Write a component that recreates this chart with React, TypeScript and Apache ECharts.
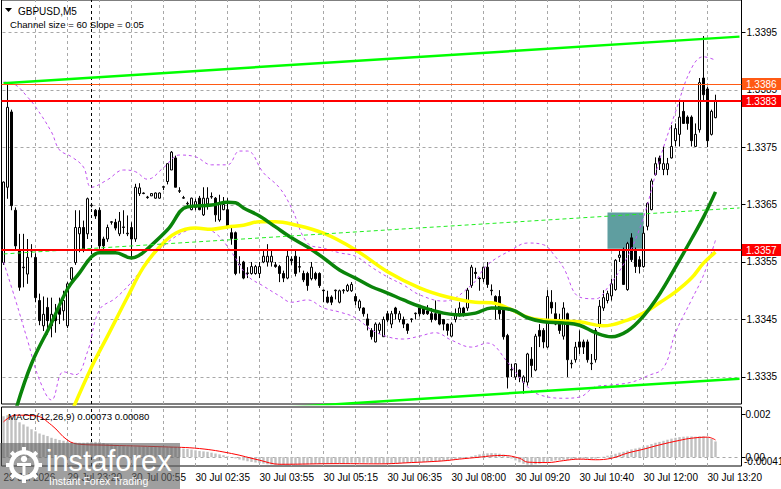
import React, { useEffect, useRef } from "react";
import * as echarts from "echarts";

// ---------- candles (M5 GBPUSD) ----------
const opens = [
  1.33549,1.33680,1.33811,1.33640,1.33570,1.33540,1.33529,1.33569,1.33558,1.33483,
  1.33439,1.33471,1.33439,1.33459,1.33471,1.33465,1.33439,1.33520,1.33549,1.33599,
  1.33610,1.33599,1.33648,1.33640,1.33640,1.33590,1.33590,1.33619,1.33619,1.33599,
  1.33610,1.33599,1.33610,1.33590,1.33669,1.33669,1.33662,1.33665,1.33661,1.33661,
  1.33680,1.33690,1.33710,1.33731,1.33673,1.33661,1.33651,1.33641,1.33645,1.33661,
  1.33632,1.33651,1.33663,1.33661,1.33623,1.33641,1.33641,1.33601,1.33601,1.33545,
  1.33550,1.33530,1.33530,1.33530,1.33530,1.33550,1.33550,1.33550,1.33545,1.33542,
  1.33530,1.33522,1.33555,1.33560,1.33541,1.33530,1.33530,1.33521,1.33530,1.33530,
  1.33501,1.33489,1.33489,1.33500,1.33480,1.33500,1.33500,1.33500,1.33490,1.33470,
  1.33470,1.33451,1.33431,1.33411,1.33431,1.33420,1.33460,1.33442,1.33470,1.33450,
  1.33450,1.33442,1.33450,1.33460,1.33470,1.33470,1.33465,1.33460,1.33460,1.33460,
  1.33450,1.33442,1.33421,1.33450,1.33460,1.33470,1.33470,1.33509,1.33532,1.33522,
  1.33521,1.33541,1.33501,1.33490,1.33490,1.33470,1.33422,1.33362,1.33350,1.33362,
  1.33341,1.33341,1.33381,1.33362,1.33431,1.33431,1.33402,1.33480,1.33460,1.33450,
  1.33421,1.33460,1.33373,1.33380,1.33411,1.33411,1.33411,1.33373,1.33380,1.33442,
  1.33470,1.33483,1.33491,1.33502,1.33558,1.33572,1.33502,1.33592,1.33570,1.33554,
  1.33542,1.33612,1.33641,1.33702,1.33731,1.33711,1.33711,1.33731,1.33761,1.33772,
  1.33812,1.33802,1.33802,1.33751,1.33780,1.33870,1.33851,1.33772,1.33801,
];
const closes = [
  1.33689,1.33819,1.33648,1.33578,1.33506,1.33541,1.33558,1.33570,1.33488,1.33448,
  1.33459,1.33448,1.33459,1.33448,1.33459,1.33483,1.33512,1.33540,1.33610,1.33610,
  1.33570,1.33660,1.33649,1.33630,1.33578,1.33578,1.33610,1.33620,1.33609,1.33621,
  1.33611,1.33600,1.33590,1.33680,1.33679,1.33670,1.33663,1.33669,1.33670,1.33670,
  1.33681,1.33721,1.33741,1.33680,1.33674,1.33662,1.33652,1.33661,1.33655,1.33641,
  1.33661,1.33661,1.33664,1.33632,1.33651,1.33650,1.33612,1.33591,1.33530,1.33546,
  1.33522,1.33531,1.33542,1.33542,1.33542,1.33560,1.33560,1.33560,1.33542,1.33530,
  1.33522,1.33560,1.33552,1.33530,1.33542,1.33519,1.33509,1.33541,1.33521,1.33509,
  1.33500,1.33480,1.33480,1.33501,1.33500,1.33501,1.33509,1.33511,1.33482,1.33482,
  1.33460,1.33440,1.33420,1.33442,1.33442,1.33450,1.33449,1.33460,1.33460,1.33460,
  1.33442,1.33431,1.33451,1.33461,1.33460,1.33460,1.33460,1.33450,1.33450,1.33442,
  1.33442,1.33431,1.33442,1.33460,1.33470,1.33460,1.33501,1.33541,1.33530,1.33521,
  1.33541,1.33511,1.33500,1.33480,1.33460,1.33420,1.33350,1.33363,1.33373,1.33350,
  1.33350,1.33390,1.33370,1.33421,1.33421,1.33411,1.33490,1.33470,1.33442,1.33431,
  1.33470,1.33380,1.33374,1.33402,1.33402,1.33402,1.33380,1.33374,1.33431,1.33473,
  1.33488,1.33495,1.33512,1.33553,1.33562,1.33511,1.33582,1.33554,1.33542,1.33542,
  1.33600,1.33652,1.33691,1.33721,1.33721,1.33721,1.33721,1.33751,1.33782,1.33802,
  1.33791,1.33791,1.33761,1.33772,1.33862,1.33841,1.33761,1.33812,1.33831,
];
const lows = [
  1.33545,1.33660,1.33640,1.33570,1.33500,1.33506,1.33512,1.33558,1.33480,1.33440,
  1.33430,1.33424,1.33419,1.33427,1.33442,1.33448,1.33435,1.33512,1.33545,1.33567,
  1.33567,1.33590,1.33645,1.33625,1.33573,1.33570,1.33585,1.33615,1.33605,1.33595,
  1.33599,1.33595,1.33558,1.33585,1.33665,1.33668,1.33660,1.33665,1.33660,1.33660,
  1.33675,1.33685,1.33710,1.33680,1.33670,1.33660,1.33648,1.33640,1.33640,1.33640,
  1.33630,1.33641,1.33660,1.33620,1.33620,1.33640,1.33609,1.33580,1.33527,1.33530,
  1.33520,1.33522,1.33528,1.33528,1.33522,1.33548,1.33542,1.33542,1.33540,1.33515,
  1.33515,1.33520,1.33545,1.33525,1.33532,1.33515,1.33500,1.33518,1.33518,1.33505,
  1.33480,1.33478,1.33475,1.33485,1.33478,1.33495,1.33498,1.33498,1.33475,1.33465,
  1.33455,1.33431,1.33415,1.33410,1.33425,1.33420,1.33445,1.33435,1.33450,1.33445,
  1.33435,1.33425,1.33445,1.33450,1.33455,1.33458,1.33458,1.33445,1.33448,1.33440,
  1.33431,1.33422,1.33420,1.33445,1.33455,1.33455,1.33465,1.33505,1.33521,1.33500,
  1.33515,1.33505,1.33492,1.33450,1.33450,1.33415,1.33330,1.33350,1.33345,1.33341,
  1.33321,1.33335,1.33350,1.33360,1.33402,1.33400,1.33400,1.33460,1.33440,1.33425,
  1.33415,1.33350,1.33365,1.33375,1.33390,1.33390,1.33375,1.33362,1.33375,1.33435,
  1.33465,1.33478,1.33483,1.33500,1.33550,1.33510,1.33500,1.33550,1.33531,1.33530,
  1.33540,1.33605,1.33640,1.33700,1.33710,1.33701,1.33701,1.33730,1.33751,1.33751,
  1.33790,1.33780,1.33751,1.33750,1.33775,1.33830,1.33750,1.33770,1.33800,
];
const highs = [
  1.33690,1.33859,1.33815,1.33645,1.33599,1.33599,1.33590,1.33581,1.33565,1.33495,
  1.33490,1.33488,1.33488,1.33477,1.33488,1.33500,1.33515,1.33541,1.33640,1.33640,
  1.33622,1.33662,1.33652,1.33642,1.33645,1.33594,1.33615,1.33621,1.33625,1.33637,
  1.33640,1.33631,1.33619,1.33686,1.33687,1.33671,1.33665,1.33670,1.33671,1.33671,
  1.33682,1.33722,1.33743,1.33735,1.33680,1.33665,1.33655,1.33662,1.33660,1.33665,
  1.33680,1.33680,1.33671,1.33663,1.33667,1.33663,1.33661,1.33612,1.33603,1.33560,
  1.33552,1.33541,1.33550,1.33545,1.33550,1.33569,1.33581,1.33571,1.33550,1.33545,
  1.33535,1.33571,1.33560,1.33570,1.33559,1.33535,1.33533,1.33550,1.33533,1.33532,
  1.33502,1.33500,1.33492,1.33502,1.33502,1.33503,1.33512,1.33515,1.33495,1.33485,
  1.33471,1.33460,1.33435,1.33445,1.33445,1.33455,1.33465,1.33465,1.33472,1.33465,
  1.33455,1.33443,1.33452,1.33462,1.33472,1.33471,1.33475,1.33470,1.33483,1.33461,
  1.33451,1.33443,1.33445,1.33469,1.33480,1.33472,1.33505,1.33545,1.33540,1.33523,
  1.33542,1.33550,1.33511,1.33492,1.33501,1.33472,1.33425,1.33373,1.33374,1.33363,
  1.33353,1.33392,1.33402,1.33425,1.33442,1.33435,1.33501,1.33501,1.33480,1.33460,
  1.33480,1.33462,1.33380,1.33411,1.33431,1.33415,1.33415,1.33390,1.33435,1.33484,
  1.33501,1.33500,1.33521,1.33555,1.33570,1.33575,1.33585,1.33600,1.33575,1.33560,
  1.33612,1.33654,1.33695,1.33732,1.33735,1.33751,1.33731,1.33788,1.33791,1.33831,
  1.33831,1.33805,1.33805,1.33791,1.33870,1.33943,1.33855,1.33815,1.33841,
];

// ---------- indicator lines: [bar, price] points ----------
const maGreen = [
  [3,1.33291],[7,1.33373],[12,1.33444],[16,1.33503],[19,1.33531],[22,1.33559],[24,1.33566],
  [28,1.33566],[32,1.33557],[34,1.33562],[36,1.33573],[41,1.33606],[46,1.33646],[52,1.33649],
  [56,1.33654],[58,1.33653],[60,1.33644],[64,1.33630],[68,1.33611],[72,1.33592],[76,1.33576],
  [80,1.33557],[84,1.33536],[88,1.33522],[92,1.33507],[96,1.33496],[100,1.33484],[104,1.33473],
  [110,1.33461],[114,1.33458],[118,1.33461],[122,1.33470],[127,1.33467],[131,1.33453],
  [135,1.33446],[140,1.33444],[144,1.33440],[148,1.33427],[152,1.33420],[156,1.33430],
  [160,1.33456],[164,1.33494],[168,1.33541],[172,1.33590],[175,1.33628],[178,1.33672],
];
const maYellow = [
  [17,1.33289],[22,1.33367],[26,1.33421],[31,1.33489],[35,1.33541],[39,1.33576],[43,1.33600],
  [48,1.33609],[52,1.33607],[56,1.33611],[60,1.33614],[64,1.33620],[68,1.33620],[72,1.33616],
  [80,1.33600],[88,1.33571],[96,1.33533],[104,1.33505],[111,1.33489],[118,1.33480],
  [122,1.33479],[127,1.33467],[131,1.33454],[135,1.33449],[144,1.33446],[150,1.33439],
  [156,1.33449],[160,1.33461],[164,1.33479],[168,1.33498],[172,1.33522],[175,1.33548],[178,1.33567],
];
const bandUpper = [
  [0,1.33863],[3,1.33858],[6,1.33837],[8,1.33820],[12,1.33776],[14,1.33745],[17,1.33733],
  [20,1.33715],[22,1.33680],[26,1.33693],[30,1.33710],[33,1.33707],[36,1.33694],[40,1.33714],
  [44,1.33736],[48,1.33733],[52,1.33719],[56,1.33719],[59,1.33743],[61,1.33743],[65,1.33705],
  [69,1.33679],[72,1.33644],[76,1.33583],[80,1.33574],[84,1.33566],[88,1.33560],[92,1.33541],
  [96,1.33524],[100,1.33510],[104,1.33493],[110,1.33482],[117,1.33510],[121,1.33545],
  [127,1.33571],[131,1.33583],[135,1.33580],[138,1.33559],[140,1.33540],[144,1.33489],
  [148,1.33486],[151,1.33505],[156,1.33559],[160,1.33628],[164,1.33727],[168,1.33811],
  [172,1.33887],[175,1.33907],[178,1.33901],
];
const bandLower = [
  [0,1.33550],[3,1.33484],[6,1.33414],[9,1.33345],[12,1.33310],[15,1.33359],[18,1.33354],
  [21,1.33394],[24,1.33467],[28,1.33487],[32,1.33515],[36,1.33550],[40,1.33578],[45,1.33602],
  [49,1.33609],[53,1.33600],[57,1.33567],[61,1.33526],[65,1.33508],[69,1.33491],[72,1.33480],
  [76,1.33484],[80,1.33470],[84,1.33463],[88,1.33453],[92,1.33432],[96,1.33420],[100,1.33416],
  [104,1.33421],[108,1.33427],[112,1.33414],[117,1.33402],[121,1.33409],[126,1.33376],
  [131,1.33333],[134,1.33319],[140,1.33313],[144,1.33315],[148,1.33333],[152,1.33336],
  [157,1.33341],[161,1.33352],[165,1.33366],[168,1.33427],[172,1.33484],[175,1.33527],[178,1.33588],
];
const channelTop = [[0,1.33861],[184,1.33942]];
const channelMid = [[0,1.33564],[184,1.33644]];
const channelBottom = [[0,1.33266],[184,1.33347]];

// ---------- MACD(12,26,9) ----------
const macdHist = [
  0.00190,0.00195,0.00186,0.00176,0.00162,0.00152,0.00142,0.00130,0.00120,0.00110,
  0.00104,0.00098,0.00090,0.00085,0.00080,0.00076,0.00072,0.00070,0.00068,0.00067,
  0.00067,0.00068,0.00070,0.00071,0.00070,0.00066,0.00062,0.00060,0.00057,0.00054,
  0.00051,0.00049,0.00048,0.00049,0.00050,0.00049,0.00048,0.00048,0.00047,0.00047,
  0.00046,0.00046,0.00047,0.00045,0.00043,0.00040,0.00038,0.00035,0.00032,0.00029,
  0.00027,0.00025,0.00021,0.00017,0.00013,0.00009,0.00004,0.00000,-0.00006,-0.00011,
  -0.00015,-0.00019,-0.00022,-0.00025,-0.00028,-0.00030,-0.00033,-0.00034,-0.00035,-0.00036,
  -0.00037,-0.00036,-0.00035,-0.00035,-0.00034,-0.00034,-0.00033,-0.00032,-0.00031,-0.00031,
  -0.00030,-0.00030,-0.00030,-0.00029,-0.00029,-0.00028,-0.00027,-0.00026,-0.00026,-0.00026,
  -0.00026,-0.00026,-0.00027,-0.00029,-0.00030,-0.00030,-0.00030,-0.00029,-0.00028,-0.00028,
  -0.00027,-0.00027,-0.00026,-0.00025,-0.00024,-0.00023,-0.00022,-0.00021,-0.00020,-0.00019,
  -0.00017,-0.00015,-0.00013,-0.00011,-0.00008,-0.00005,-0.00001,0.00004,0.00009,0.00013,
  0.00016,0.00018,0.00019,0.00018,0.00016,0.00012,0.00004,-0.00006,-0.00015,-0.00024,
  -0.00031,-0.00035,-0.00036,-0.00033,-0.00030,-0.00026,-0.00022,-0.00018,-0.00015,-0.00013,
  -0.00012,-0.00013,-0.00012,-0.00010,-0.00008,-0.00007,-0.00008,-0.00009,-0.00007,-0.00003,
  0.00002,0.00007,0.00011,0.00016,0.00021,0.00025,0.00030,0.00036,0.00040,0.00044,
  0.00049,0.00055,0.00061,0.00067,0.00071,0.00076,0.00081,0.00086,0.00090,0.00093,
  0.00095,0.00096,0.00096,0.00095,0.00097,0.00097,0.00093,0.00085,0.00073,
];
const macdSignal = [
  [0,0.00164],[3,0.00195],[8,0.00192],[12,0.00149],[16,0.00079],[19,0.00060],[25,0.00056],
  [40,0.00048],[49,0.00040],[57,0.00017],[64,-0.00014],[69,-0.00033],[84,-0.00030],
  [94,-0.00031],[102,-0.00025],[110,-0.00017],[114,-0.00009],[119,0.00000],[122,0.00006],
  [125,0.00008],[129,-0.00005],[131,-0.00023],[136,-0.00025],[140,-0.00016],[144,-0.00009],
  [148,-0.00012],[152,-0.00005],[156,0.00019],[160,0.00037],[164,0.00057],[169,0.00078],
  [172,0.00088],[176,0.00093],[178,0.00080],
];

// ---------- axes / ticks / objects ----------
const BAR_SLOTS = 185;
const PRICE_MIN = 1.33303;
const PRICE_MAX = 1.340057;
const MACD_MIN = -0.00041;
const MACD_MAX = 0.00233;
const priceTicks = [1.3335, 1.3345, 1.3355, 1.3365, 1.3375, 1.3385, 1.3395];
const macdTicks = [0.002, 0];
const macdTickLabels = ["0.002", "0.00"];
const macdGridLevels = [0];
const timeTickBars = [0, 16, 32, 48, 64, 80, 96, 112, 128, 144, 160, 176];
const timeTickLabels = [
  "29 Jul 2026", "29 Jul 23:20", "30 Jul 00:55", "30 Jul 02:35", "30 Jul 03:55", "30 Jul 05:15",
  "30 Jul 06:35", "30 Jul 08:00", "30 Jul 09:20", "30 Jul 10:40", "30 Jul 12:00", "30 Jul 13:20",
];
const gridBars = [8,16,24,32,40,48,56,64,72,80,88,96,104,112,120,128,136,144,152,160,168,176];
const separatorBar = 22;
const levelPrices = [1.3386, 1.3383, 1.3357];
const levelColors = ["#FF5A14", "#FF0000", "#FF0000"];
const levelWidths = [1, 2, 2];
const zoneBars = [151, 160];
const zonePrices = [1.33573, 1.33636];

const AXIS_FONT = "'Liberation Sans Narrow','Liberation Sans',Arial,sans-serif";
const TEXT_FONT = "'Liberation Sans',Arial,sans-serif";
const PLOT_X0 = 1.5;
const PLOT_X1 = 741.5;
const GRID_GRAY = "#A8A8A8";

export default function App() {
  const ref = useRef<HTMLDivElement>(null);
  useEffect(() => {
    if (!ref.current) return;
    const chart = echarts.init(ref.current, null, { renderer: "svg" });
    const categories = Array.from({ length: BAR_SLOTS }, (_, i) => String(i));
    const candles = opens.map((o, i) => [o, closes[i], lows[i], highs[i]]);
    const labelByBar: Record<number, string> = {};
    timeTickBars.forEach((b, k) => (labelByBar[b] = timeTickLabels[k]));

    const gridLineStyle = { color: GRID_GRAY, type: [3, 3], width: 1 };
    const vLines = gridBars.map((b) => ({ xAxis: b, lineStyle: gridLineStyle }));
    const sepLine = { xAxis: separatorBar, lineStyle: { color: "#000", type: [3, 3], width: 1 } };
    const markBase = { silent: true, symbol: ["none", "none"], label: { show: false }, animation: false };

    const option: any = {
      animation: false,
      backgroundColor: "#ffffff",
      grid: [
        { left: PLOT_X0, top: 0, width: PLOT_X1 - PLOT_X0, height: 404, show: true, borderColor: "#000", borderWidth: 1 },
        { left: PLOT_X0, top: 407, width: PLOT_X1 - PLOT_X0, height: 59, show: true, borderColor: "#000", borderWidth: 1 },
      ],
      xAxis: [
        { type: "category", gridIndex: 0, data: categories, boundaryGap: true,
          axisLine: { show: false }, axisTick: { show: false }, axisLabel: { show: false }, splitLine: { show: false } },
        { type: "category", gridIndex: 1, data: categories, boundaryGap: true,
          axisLine: { show: false }, axisTick: { show: false }, splitLine: { show: false },
          axisLabel: {
            show: true,
            interval: (i: number) => labelByBar[i] !== undefined,
            formatter: (_v: string, i: number) => labelByBar[i] ?? "",
            align: "left", margin: 6, fontSize: 10, color: "#000", fontFamily: AXIS_FONT,
          } },
      ],
      yAxis: [
        { type: "value", gridIndex: 0, position: "right", min: PRICE_MIN, max: PRICE_MAX,
          axisLine: { show: false },
          axisTick: { show: true, customValues: priceTicks, length: 4, lineStyle: { color: "#000", width: 1 } },
          splitLine: { show: false },
          axisLabel: { customValues: priceTicks, formatter: (v: number) => v.toFixed(4),
            margin: 5, fontSize: 10, color: "#000", fontFamily: AXIS_FONT } },
        { type: "value", gridIndex: 1, position: "right", min: MACD_MIN, max: MACD_MAX,
          axisLine: { show: false },
          axisTick: { show: true, customValues: macdTicks, length: 4, lineStyle: { color: "#000", width: 1 } },
          splitLine: { show: false },
          axisLabel: { customValues: macdTicks,
            formatter: (v: number) => macdTickLabels[macdTicks.indexOf(v)] ?? "",
            margin: 4, fontSize: 10, color: "#000", fontFamily: AXIS_FONT } },
      ],
      series: [
        { type: "line", xAxisIndex: 0, yAxisIndex: 0, data: [], silent: true,
          markArea: { z: 1, silent: true, itemStyle: { color: "#5F9EA0" }, label: { show: false },
            data: [[{ xAxis: zoneBars[0], yAxis: zonePrices[0] }, { xAxis: zoneBars[1], yAxis: zonePrices[1] }]] } },
        { type: "candlestick", xAxisIndex: 0, yAxisIndex: 0, data: candles, barWidth: 2.4, silent: true, z: 2,
          itemStyle: { color: "#ffffff", color0: "#000000", borderColor: "#000000", borderColor0: "#000000",
            borderColorDoji: "#000000", borderWidth: 1 } },
        { type: "line", xAxisIndex: 0, yAxisIndex: 0, data: bandUpper, smooth: 0.4, symbol: "none", silent: true, z: 3,
          lineStyle: { color: "#C050F0", width: 1, type: [3, 3] },
          markLine: { ...markBase, z: 0, data: [...vLines, sepLine] } },
        { type: "line", xAxisIndex: 0, yAxisIndex: 0, data: bandLower, smooth: 0.4, symbol: "none", silent: true, z: 3,
          lineStyle: { color: "#C050F0", width: 1, type: [3, 3] } },
        { type: "line", xAxisIndex: 0, yAxisIndex: 0, data: maYellow, smooth: 0.4, symbol: "none", silent: true, z: 4,
          lineStyle: { color: "#FFFF00", width: 3.5 } },
        { type: "line", xAxisIndex: 0, yAxisIndex: 0, data: maGreen, smooth: 0.4, symbol: "none", silent: true, z: 4,
          lineStyle: { color: "#0A840A", width: 3.5 } },
        { type: "line", xAxisIndex: 0, yAxisIndex: 0, data: channelTop, symbol: "none", silent: true, z: 4,
          lineStyle: { color: "#00FF00", width: 2.5 } },
        { type: "line", xAxisIndex: 0, yAxisIndex: 0, data: channelBottom, symbol: "none", silent: true, z: 4,
          lineStyle: { color: "#00FF00", width: 2.5 } },
        { type: "line", xAxisIndex: 0, yAxisIndex: 0, data: channelMid, symbol: "none", silent: true, z: 4,
          lineStyle: { color: "#22EE22", width: 1, type: [4, 3] } },
        { type: "bar", xAxisIndex: 1, yAxisIndex: 1, data: macdHist, barWidth: 2.4, silent: true, z: 2,
          itemStyle: { color: "#C0C0C0" } },
        { type: "line", xAxisIndex: 1, yAxisIndex: 1, data: macdSignal, smooth: 0.4, symbol: "none", silent: true, z: 4,
          lineStyle: { color: "#FF0000", width: 1 },
          markLine: { ...markBase, z: 0, data: [...vLines, sepLine] } },
      ],
    };
    chart.setOption(option);

    const yPrice = (p: number) => chart.convertToPixel({ yAxisIndex: 0 }, p) as number;
    const yMacd = (v: number) => chart.convertToPixel({ yAxisIndex: 1 }, v) as number;

    // dashed horizontal grid lines built from short 3px dashes
    const dashRow = (y: number) => {
      const out: any[] = [];
      const yy = Math.round(y);
      for (let x = PLOT_X0 + 1; x < PLOT_X1 - 1; x += 6) {
        out.push({ type: "rect", z: 1, silent: true,
          shape: { x, y: yy, width: Math.min(3, PLOT_X1 - 1 - x), height: 1 }, style: { fill: GRID_GRAY } });
      }
      return out;
    };
    const gridRows: any[] = [
      ...priceTicks.flatMap((p) => dashRow(yPrice(p))),
      ...macdGridLevels.flatMap((v) => dashRow(yMacd(v))),
    ];

    const levelLines = levelPrices.map((p, k) => {
      const y = levelWidths[k] === 1 ? Math.round(yPrice(p)) + 0.5 : Math.round(yPrice(p));
      return {
        type: "line", z: 10, silent: true,
        shape: { x1: PLOT_X0, y1: y, x2: PLOT_X1, y2: y },
        style: { stroke: levelColors[k], lineWidth: levelWidths[k] },
      };
    });

    const tags: any[] = [];
    levelPrices.forEach((p, k) => {
      const y = Math.round(yPrice(p));
      tags.push({ type: "rect", z: 100, shape: { x: 742, y: y - 6, width: 39, height: 12 },
        style: { fill: levelColors[k] } });
      tags.push({ type: "text", z: 101, x: 746, y: y + 0.5,
        style: { text: p.toFixed(4), fill: "#fff", fontSize: 10, fontFamily: AXIS_FONT, verticalAlign: "middle" } });
    });

    const logo: any = {
      type: "group", z: 200, children: [
        { type: "rect", z: 200, shape: { x: 0, y: 443, width: 180, height: 46 }, style: { fill: "rgba(100,100,100,0.62)" } },
        { type: "ring", z: 201, shape: { cx: 24, cy: 465, r: 15, r0: 10.5 }, style: { fill: "#fff" } },
        { type: "circle", z: 201, shape: { cx: 24, cy: 459, r: 3.2 }, style: { fill: "#fff" } },
        { type: "rect", z: 201, shape: { x: 17, y: 463, width: 14, height: 3 }, style: { fill: "#fff" } },
        { type: "rect", z: 201, shape: { x: 22.5, y: 463, width: 3, height: 12 }, style: { fill: "#fff" } },
        ...[0, 45, 90, 135, 180, 225, 270, 315].map((deg) => ({
          type: "rect", z: 201, x: 24, y: 465, rotation: (deg * Math.PI) / 180,
          shape: { x: -2, y: -18, width: 4, height: 5 }, style: { fill: "#fff" },
        })),
        { type: "text", z: 201, x: 46, y: 461,
          style: { text: "instaforex", fill: "#fff", fontSize: 29, fontFamily: TEXT_FONT, verticalAlign: "middle" } },
        { type: "text", z: 201, x: 49, y: 481,
          style: { text: "Instant Forex Trading", fill: "#fff", fontSize: 10.5, fontFamily: TEXT_FONT, verticalAlign: "middle" } },
      ],
    };

    chart.setOption({
      graphic: [
        ...gridRows,
        ...levelLines,
        { type: "polygon", z: 100, shape: { points: [[5, 8], [12, 8], [8.5, 12]] }, style: { fill: "#000" } },
        { type: "text", z: 100, x: 18, y: 11,
          style: { text: "GBPUSD,M5", fill: "#000", fontSize: 10, fontFamily: TEXT_FONT, verticalAlign: "middle" } },
        { type: "text", z: 100, x: 10, y: 24.5,
          style: { text: "Channel size = 60 Slope = 0.05", fill: "#000", fontSize: 9.6, fontFamily: TEXT_FONT, verticalAlign: "middle" } },
        { type: "text", z: 100, x: 8, y: 416.5,
          style: { text: "MACD(12,26,9) 0.00073 0.00080", fill: "#000", fontSize: 9.6, fontFamily: TEXT_FONT, verticalAlign: "middle" } },
        { type: "text", z: 100, x: 744, y: yMacd(MACD_MIN) - 5,
          style: { text: "-0.00041", fill: "#000", fontSize: 10, fontFamily: AXIS_FONT, verticalAlign: "middle" } },
        ...tags,
        logo,
      ],
    });

    return () => chart.dispose();
  }, []);

  return (
    <div
      ref={ref}
      style={{ position: "fixed", left: 0, top: 0, width: 781, height: 489, background: "#fff" }}
    />
  );
}
